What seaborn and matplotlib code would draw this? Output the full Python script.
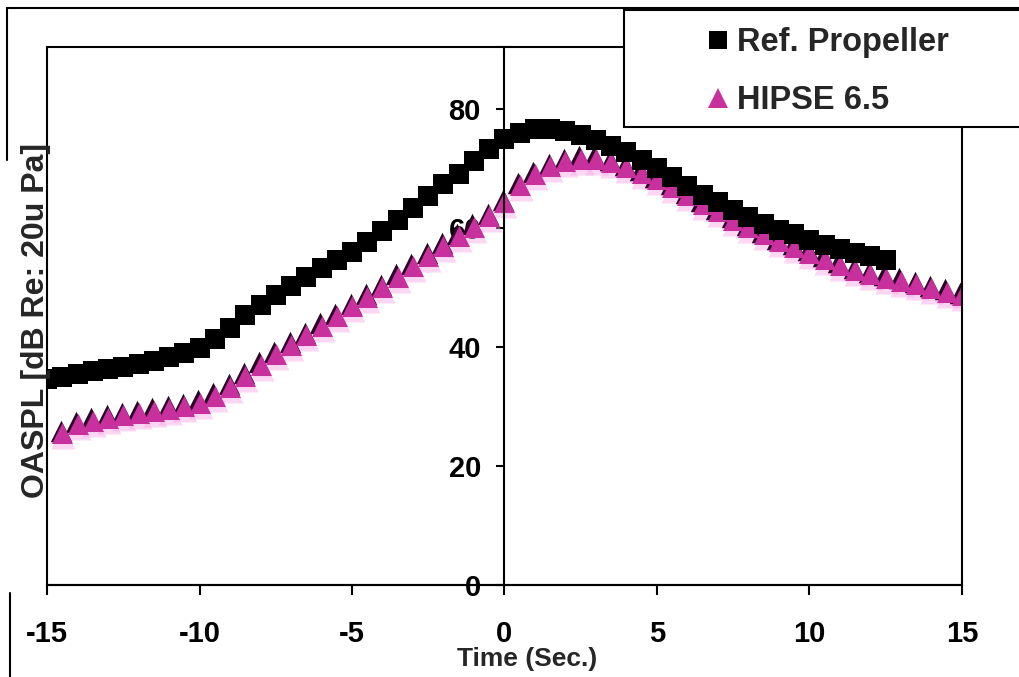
import matplotlib
matplotlib.use("Agg")
import matplotlib.pyplot as plt
import matplotlib.transforms as mtransforms
from matplotlib.lines import Line2D
from matplotlib.patches import Rectangle
import pandas as pd
import seaborn as sns

# --- flyover noise data -------------------------------------------------
time_ref = [-15.0, -14.5, -14.0, -13.5, -13.0, -12.5, -12.0, -11.5, -11.0, -10.5,
            -10.0, -9.5, -9.0, -8.5, -8.0, -7.5, -7.0, -6.5, -6.0, -5.5,
            -5.0, -4.5, -4.0, -3.5, -3.0, -2.5, -2.0, -1.5, -1.0, -0.5,
            0.0, 0.5, 1.0, 1.5, 2.0, 2.5, 3.0, 3.5, 4.0, 4.5,
            5.0, 5.5, 6.0, 6.5, 7.0, 7.5, 8.0, 8.5, 9.0, 9.5,
            10.0, 10.5, 11.0, 11.5, 12.0, 12.5]
oaspl_ref = [34.6, 35.0, 35.4, 35.9, 36.3, 36.7, 37.1, 37.7, 38.3, 39.0,
             39.8, 41.3, 43.2, 45.3, 47.0, 48.8, 50.3, 51.7, 53.2, 54.6,
             56.0, 57.6, 59.4, 61.4, 63.4, 65.4, 67.3, 69.1, 71.2, 73.2,
             75.0, 76.0, 76.6, 76.7, 76.3, 75.6, 74.7, 73.8, 72.7, 71.4,
             70.0, 68.5, 67.0, 65.6, 64.3, 63.0, 61.8, 60.7, 59.7, 58.9,
             58.0, 57.2, 56.4, 55.8, 55.2, 54.6]

time_hipse = [-14.5, -14.0, -13.5, -13.0, -12.5, -12.0, -11.5, -11.0, -10.5, -10.0,
              -9.5, -9.0, -8.5, -8.0, -7.5, -7.0, -6.5, -6.0, -5.5, -5.0,
              -4.5, -4.0, -3.5, -3.0, -2.5, -2.0, -1.5, -1.0, -0.5, 0.0,
              0.5, 1.0, 1.5, 2.0, 2.5, 3.0, 3.5, 4.0, 4.5, 5.0,
              5.5, 6.0, 6.5, 7.0, 7.5, 8.0, 8.5, 9.0, 9.5, 10.0,
              10.5, 11.0, 11.5, 12.0, 12.5, 13.0, 13.5, 14.0, 14.5, 15.0]
oaspl_hipse = [25.5, 27.0, 27.6, 28.1, 28.5, 28.9, 29.3, 29.6, 30.0, 30.6,
               31.8, 33.3, 35.2, 37.0, 38.8, 40.4, 42.0, 43.6, 45.2, 46.8,
               48.4, 50.0, 51.8, 53.6, 55.3, 57.0, 58.6, 60.2, 62.0, 64.3,
               67.2, 69.0, 70.4, 71.2, 71.6, 71.6, 71.0, 70.2, 69.3, 68.2,
               66.9, 65.5, 64.1, 62.8, 61.4, 60.1, 58.9, 57.8, 56.8, 55.8,
               54.8, 53.8, 52.9, 52.2, 51.6, 51.1, 50.5, 49.9, 49.3, 48.7]

x_ticks = [-15, -10, -5, 0, 5, 10, 15]
y_ticks = [0, 20, 40, 60, 80]
series_names = ["Ref. Propeller", "HIPSE 6.5"]

ref_df = pd.DataFrame({"time": time_ref, "oaspl": oaspl_ref})
hipse_df = pd.DataFrame({"time": time_hipse, "oaspl": oaspl_hipse})

# --- style ---------------------------------------------------------------
sns.set_style("white")
plt.rcParams["font.family"] = ["Liberation Sans", "DejaVu Sans"]
plt.rcParams["font.weight"] = "bold"
plt.rcParams["axes.unicode_minus"] = False

W, H = 1020, 677
fig = plt.figure(figsize=(W / 100, H / 100), dpi=100)
fig.patch.set_facecolor("white")
ax = fig.add_axes([47 / W, 1 - 585 / H, (962 - 47) / W, (585 - 47) / H])

MAGENTA = "#C8309E"
SHADOW = "#2a0626"
HALO = "#f7a8e6"
TRI = 240   # triangle marker area (pt^2)
SQ = 215    # square marker area (pt^2)

# HIPSE 6.5: soft halo, dark shadow, then the magenta triangles
halo_tr = mtransforms.offset_copy(ax.transData, fig=fig, x=1, y=-4, units="dots")
shadow_tr = mtransforms.offset_copy(ax.transData, fig=fig, x=-1.5, y=2.5, units="dots")
sns.scatterplot(data=hipse_df, x="time", y="oaspl", ax=ax, marker="^", s=TRI + 60,
                color=HALO, linewidth=0, alpha=0.45, transform=halo_tr, legend=False)
sns.scatterplot(data=hipse_df, x="time", y="oaspl", ax=ax, marker="^", s=TRI,
                color=SHADOW, linewidth=0, transform=shadow_tr, legend=False)
sns.scatterplot(data=hipse_df, x="time", y="oaspl", ax=ax, marker="^", s=TRI - 10,
                color=MAGENTA, linewidth=0, legend=False)

# Reference propeller: black squares
sns.scatterplot(data=ref_df, x="time", y="oaspl", ax=ax, marker="s", s=SQ,
                color="black", linewidth=0, legend=False)

ax.set_xlim(-15, 15)
ax.set_ylim(0, 90.4)
ax.set_xticks(x_ticks)
ax.set_yticks(y_ticks)
ax.set_xlabel("")
ax.set_ylabel("")

# value axis crosses at t = 0
ax.spines["left"].set_position(("data", 0))
ax.spines["left"].set_linewidth(1.5)
ax.spines["bottom"].set_linewidth(1.5)
ax.spines["top"].set_visible(False)
ax.spines["right"].set_visible(False)
for sp in ("left", "bottom"):
    ax.spines[sp].set_color("black")
ax.add_patch(Rectangle((0, 0), 1, 1, transform=ax.transAxes, fill=False,
                       edgecolor="black", linewidth=1.5, clip_on=False, zorder=3))

ax.tick_params(axis="x", which="both", bottom=True, top=False, direction="out",
               length=7, width=1.5, pad=18, labelsize=21, colors="black")
ax.tick_params(axis="y", which="both", left=True, right=False, direction="out",
               length=6, width=1.5, pad=11, labelsize=21, colors="black")
for lbl in ax.get_xticklabels() + ax.get_yticklabels():
    lbl.set_fontweight("bold")

fig.text(36 / W, 1 - 320 / H, "OASPL [dB Re: 20u Pa]", rotation=90,
         ha="center", va="center", fontsize=23, fontweight="bold")
fig.text(527 / W, 1 - 659 / H, "Time (Sec.)", ha="center", va="center",
         fontsize=19, fontweight="bold")

# chart frame
frame_kw = dict(transform=fig.transFigure, color="black", linewidth=1.5, zorder=4)
fig.add_artist(Line2D([7 / W, 1.0], [1 - 8 / H, 1 - 8 / H], **frame_kw))
fig.add_artist(Line2D([7 / W, 7 / W], [1 - 8 / H, 1 - 160 / H], **frame_kw))
fig.add_artist(Line2D([10 / W, 10 / W], [1 - 593 / H, 0.0], **frame_kw))

# legend box
fig.add_artist(Rectangle((624 / W, 1 - 127 / H), (1030 - 624) / W, (127 - 10) / H,
                         transform=fig.transFigure, facecolor="white",
                         edgecolor="black", linewidth=1.5, zorder=5))
handles = [
    Line2D([], [], linestyle="none", marker="s", markersize=13,
           markerfacecolor="black", markeredgewidth=0),
    Line2D([], [], linestyle="none", marker="^", markersize=14,
           markerfacecolor=MAGENTA, markeredgewidth=0),
]
leg = fig.legend(handles, series_names, loc="upper left",
                 bbox_to_anchor=(708 / W, 1 - 27 / H), frameon=False,
                 handlelength=0.6, handletextpad=0.3, labelspacing=0.83,
                 borderpad=0, borderaxespad=0,
                 prop={"size": 23.5, "weight": "bold"})
leg.set_zorder(6)

fig.savefig("out.png", dpi=100)
